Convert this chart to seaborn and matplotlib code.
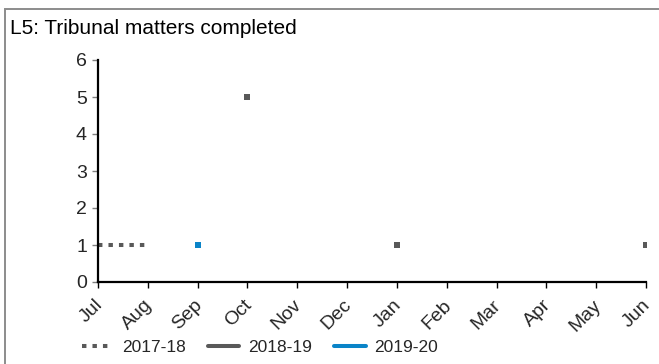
import numpy as np
import pandas as pd
import matplotlib
matplotlib.use("Agg")
import matplotlib.pyplot as plt
import seaborn as sns
from matplotlib.lines import Line2D
from matplotlib.patches import Rectangle
from matplotlib.transforms import ScaledTranslation

nan = np.nan

# Months of the financial year
months = ["Jul", "Aug", "Sep", "Oct", "Nov", "Dec",
          "Jan", "Feb", "Mar", "Apr", "May", "Jun"]

# Tribunal matters completed per month, by financial year
series_names = ["2017-18", "2018-19", "2019-20"]
values_2017_18 = [1, 1, nan, nan, nan, nan, nan, nan, nan, nan, nan, nan]
values_2018_19 = [nan, nan, nan, 5, nan, nan, 1, nan, nan, nan, nan, 1]
values_2019_20 = [nan, nan, 1, nan, nan, nan, nan, nan, nan, nan, nan, nan]

y_ticks = [0, 1, 2, 3, 4, 5, 6]
title = "L5: Tribunal matters completed"

sns.set_theme(style="white")
plt.rcParams["font.family"] = ["Liberation Sans", "DejaVu Sans"]

W, H = 659, 364
fig = plt.figure(figsize=(W / 100, H / 100), dpi=100)
ax = fig.add_axes([98 / W, 1 - 282 / H, (646 - 98) / W, (282 - 60) / H])

colors = {"2017-18": "#595959", "2018-19": "#595959", "2019-20": "#0a84c8"}
line_dash = {"2017-18": (0, (1.1, 1.5)), "2018-19": "-", "2019-20": "-"}
LW = 2.9

df = pd.DataFrame({
    "month": months * 3,
    "pos": list(range(len(months))) * 3,
    "series": np.repeat(series_names, len(months)),
    "value": values_2017_18 + values_2018_19 + values_2019_20,
})

for name in series_names:
    sub = df[df["series"] == name].reset_index(drop=True)
    present = sub["value"].notna().to_numpy()
    # split into contiguous runs of observed months
    runs, cur = [], []
    for i, ok in enumerate(present):
        if ok:
            cur.append(i)
        elif cur:
            runs.append(cur)
            cur = []
    if cur:
        runs.append(cur)
    for run in runs:
        part = sub.loc[run]
        if len(run) >= 2:
            sns.lineplot(data=part, x="pos", y="value", ax=ax,
                         color=colors[name], linewidth=LW, legend=False)
            ln = ax.lines[-1]
            ln.set_linestyle(line_dash[name])
            ln.set_dash_capstyle("butt")
        else:
            sns.scatterplot(data=part, x="pos", y="value", ax=ax,
                            color=colors[name], marker="s", s=19,
                            linewidth=0, legend=False, zorder=3)

ax.set_xlim(0, len(months) - 1)
ax.set_ylim(y_ticks[0], y_ticks[-1])
ax.set_yticks(y_ticks)
ax.set_xticks(range(len(months)))
ax.set_xticklabels(months, rotation=45, ha="right", va="top", fontsize=14)
ax.set_yticklabels([str(t) for t in y_ticks], fontsize=14)
ax.set_xlabel("")
ax.set_ylabel("")

for side in ["top", "right"]:
    ax.spines[side].set_visible(False)
for side in ["left", "bottom"]:
    ax.spines[side].set_color("black")
    ax.spines[side].set_linewidth(1.6)

ax.tick_params(axis="x", direction="out", length=4, width=1.0,
               color="black", pad=6.5, bottom=True)
ax.tick_params(axis="y", direction="out", length=4, width=1.0,
               color="#808080", pad=4, left=True)
ax.grid(False)

# nudge the rotated month labels so their ends sit just right of each tick
shift = ScaledTranslation(8 / 100, 0, fig.dpi_scale_trans)
for lab in ax.get_xticklabels():
    lab.set_transform(lab.get_transform() + shift)

# Outer chart border
fig.add_artist(Rectangle((4.5 / W, -0.1), 1.2, (H - 8.5) / H + 0.1,
                         transform=fig.transFigure, fill=False,
                         edgecolor="#8c8c8c", linewidth=1.4))

fig.text(10 / W, 1 - 28 / H, title, fontsize=15, va="center", ha="left",
         color="black")

handles = [
    Line2D([0], [0], color=colors[n], linewidth=LW, linestyle=line_dash[n],
           dash_capstyle="butt")
    for n in series_names
]
fig.legend(handles, series_names, loc="center", ncol=3, frameon=False,
           bbox_to_anchor=(260 / W, 1 - 347 / H), fontsize=12.5,
           handlelength=1.8, handletextpad=0.5, columnspacing=1.3,
           borderaxespad=0)

fig.savefig("out.png", dpi=100, facecolor="white")
